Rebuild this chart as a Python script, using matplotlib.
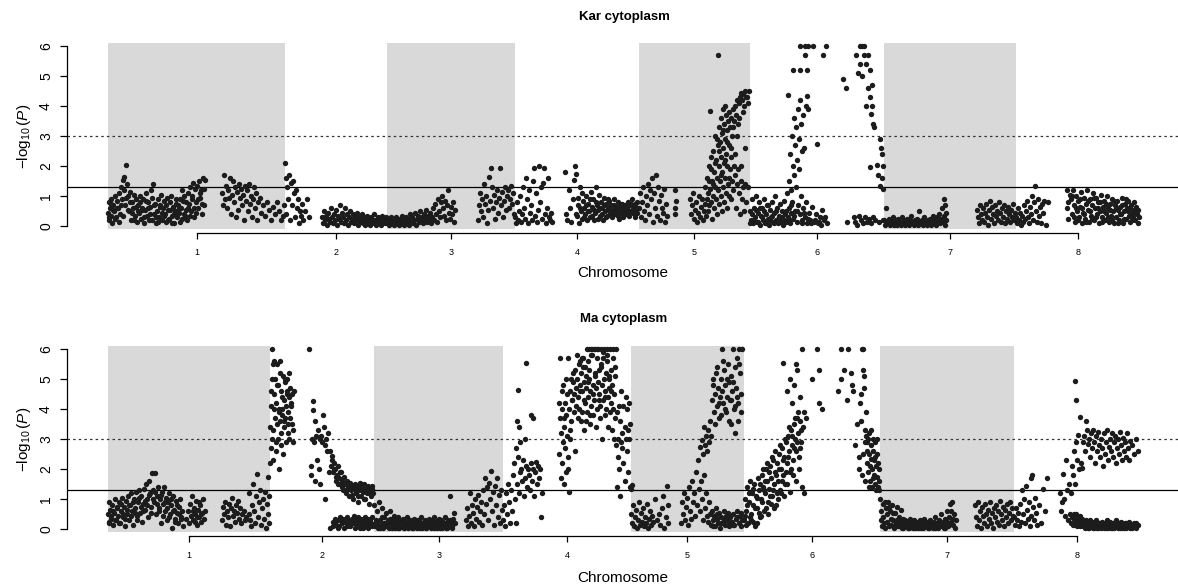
import numpy as np
import matplotlib
matplotlib.use("Agg")
import matplotlib.pyplot as plt
from matplotlib.patches import Rectangle

plt.rcParams["font.family"] = ["Liberation Sans", "DejaVu Sans"]
plt.rcParams["mathtext.fontset"] = "custom"
plt.rcParams["mathtext.rm"] = "Liberation Sans"
plt.rcParams["mathtext.it"] = "Liberation Sans:italic"

chrom_labels = ["1", "2", "3", "4", "5", "6", "7", "8"]

# chromosome lengths (map units) for each panel
kar_lengths = [177, 102, 128, 124, 111, 134, 132, 124]
ma_lengths = [162, 104, 129, 127, 113, 136, 134, 126]

# (position within chromosome, -log10 P)
kar_c1 = [
    (0, 0.45), (1, 0.8), (1, 0.2), (2, 0.6), (3, 0.35), (3, 0.9), (4, 0.1), (5, 0.7), (6, 0.5), (7, 1.0),
    (8, 0.3), (9, 0.85), (10, 0.6), (11, 1.1), (12, 0.4), (13, 1.3), (14, 0.9), (15, 1.55), (16, 1.2),
    (16, 1.65), (17, 0.7), (18, 2.05), (19, 1.4), (20, 1.0), (21, 0.5), (22, 1.15), (23, 0.2), (24, 0.8),
    (25, 0.6), (26, 1.05), (27, 0.35), (28, 0.9), (29, 0.15), (30, 0.7), (31, 0.45), (32, 1.0), (33, 0.25),
    (34, 0.6), (35, 0.9), (36, 0.1), (37, 0.55), (38, 1.1), (39, 0.35), (40, 0.8), (41, 0.2), (42, 0.65),
    (43, 1.2), (44, 0.95), (45, 1.4), (46, 0.4), (47, 0.75), (48, 0.1), (49, 0.5), (50, 0.9), (51, 0.3),
    (52, 0.7), (53, 1.05), (54, 0.2), (55, 0.6), (56, 0.85), (57, 0.4), (58, 0.15), (59, 0.95), (60, 0.55),
    (61, 0.25), (62, 0.8), (63, 1.0), (64, 0.35), (65, 0.65), (66, 0.1), (67, 0.5), (68, 0.9), (69, 0.3),
    (70, 0.7), (71, 0.45), (72, 0.15), (73, 0.6), (74, 1.2), (75, 0.85), (76, 1.0), (77, 0.35), (78, 0.55),
    (79, 0.2), (80, 1.1), (81, 0.75), (82, 1.3), (83, 0.5), (84, 1.0), (85, 1.45), (86, 0.3), (87, 1.25),
    (88, 0.8), (89, 1.35), (90, 0.6), (91, 1.5), (92, 0.95), (93, 1.2), (94, 0.4), (95, 1.6), (96, 0.7),
    (97, 1.55),
    (114, 1.1), (115, 0.7), (116, 1.7), (117, 0.9), (118, 1.35), (119, 0.6), (120, 1.2), (121, 0.95),
    (122, 1.6), (123, 0.4), (124, 1.05), (125, 1.5), (126, 0.8), (127, 1.3), (128, 0.3), (129, 1.15),
    (130, 0.55), (131, 1.4), (132, 0.95), (133, 1.25), (134, 0.7), (135, 1.05), (136, 0.2), (137, 1.35),
    (138, 0.85), (139, 1.2), (140, 0.5), (141, 1.4), (142, 0.75), (143, 1.0), (144, 0.3), (145, 0.9),
    (146, 1.3), (147, 0.6), (148, 1.1), (149, 0.2), (150, 0.8), (152, 0.95), (153, 0.45), (155, 0.7),
    (157, 0.35), (159, 0.8), (161, 0.55), (163, 0.2), (165, 0.65), (167, 0.4), (169, 0.8), (171, 0.5),
    (173, 0.2), (175, 0.35), (176, 0.7),
]
kar_c1 += [
    (0.5, 0.3), (2.5, 0.75), (4.5, 0.55), (6.5, 0.25), (8.5, 0.6), (10.5, 0.15), (12.5, 0.7), (14.5, 0.35),
    (17.5, 0.95), (19.5, 0.55), (21.5, 0.8), (23.5, 0.45), (25.5, 0.2), (27.5, 0.65), (29.5, 0.5),
    (31.5, 0.8), (33.5, 0.55), (35.5, 0.3), (37.5, 0.85), (39.5, 0.6), (41.5, 0.4), (43.5, 0.2), (45.5, 0.7),
    (47.5, 0.3), (49.5, 0.15), (51.5, 0.65), (53.5, 0.45), (55.5, 0.35), (57.5, 0.7), (59.5, 0.2),
    (61.5, 0.55), (63.5, 0.1), (65.5, 0.4), (67.5, 0.75), (69.5, 0.55), (71.5, 0.9), (73.5, 0.25),
    (75.5, 0.4), (77.5, 0.8), (79.5, 0.6), (81.5, 0.35), (83.5, 0.9), (85.5, 0.6), (87.5, 0.45), (89.5, 0.9),
    (91.5, 1.1), (93.5, 0.75), (95.5, 1.25),
]
kar_c2 = [
    (0, 2.1), (1, 1.6), (1, 0.4), (2, 1.3), (3, 0.9), (4, 1.7), (5, 0.2), (6, 1.45), (7, 0.7), (8, 1.5),
    (9, 1.1), (10, 0.3), (11, 1.2), (12, 0.6), (13, 0.9), (14, 0.1), (15, 0.5), (16, 0.35), (17, 0.75),
    (18, 0.2), (20, 0.5), (22, 0.9), (24, 0.3),
    (37, 0.3), (38, 0.1), (39, 0.5), (40, 0.2), (41, 0.35), (42, 0.05), (43, 0.45), (44, 0.25), (45, 0.15),
    (46, 0.6), (47, 0.3), (48, 0.1), (49, 0.4), (50, 0.2), (51, 0.55), (52, 0.05), (53, 0.35), (54, 0.25),
    (55, 0.7), (56, 0.15), (57, 0.45), (58, 0.3), (59, 0.1), (60, 0.6), (61, 0.2), (62, 0.4), (63, 0.05),
    (64, 0.3), (65, 0.5), (66, 0.15), (67, 0.25), (68, 0.4), (69, 0.1), (70, 0.35), (71, 0.2), (72, 0.45),
    (73, 0.05), (74, 0.3), (75, 0.15), (76, 0.25), (77, 0.4), (78, 0.1), (79, 0.3), (80, 0.05), (81, 0.2),
    (82, 0.35), (83, 0.15), (84, 0.25), (85, 0.05), (86, 0.3), (87, 0.1), (88, 0.2), (89, 0.4), (90, 0.15),
    (91, 0.05), (92, 0.25), (93, 0.3), (94, 0.1), (95, 0.2), (96, 0.05), (97, 0.35), (98, 0.15), (99, 0.25),
    (100, 0.1), (101, 0.3),
]
kar_c3 = [
    (0, 0.1), (1, 0.25), (2, 0.05), (3, 0.15), (4, 0.3), (5, 0.1), (6, 0.2), (7, 0.05), (8, 0.15), (9, 0.3),
    (10, 0.1), (11, 0.2), (12, 0.05), (13, 0.25), (14, 0.1), (15, 0.35), (16, 0.15), (17, 0.05), (18, 0.2),
    (19, 0.3), (20, 0.1), (21, 0.25), (22, 0.05), (23, 0.4), (24, 0.15), (25, 0.3), (26, 0.1), (27, 0.2),
    (28, 0.45), (29, 0.05), (30, 0.25), (31, 0.35), (32, 0.15), (33, 0.5), (34, 0.2), (35, 0.3), (36, 0.1),
    (37, 0.4), (38, 0.25), (39, 0.55), (40, 0.15), (41, 0.35), (42, 0.2), (43, 0.45), (44, 0.1), (45, 0.3),
    (46, 0.6), (47, 0.2), (48, 0.75), (49, 0.4), (50, 0.15), (51, 0.9), (52, 0.5), (53, 0.3), (54, 0.8),
    (55, 1.0), (56, 0.6), (57, 0.35), (58, 0.85), (59, 0.2), (60, 0.7), (61, 1.2), (62, 0.45), (63, 0.25),
    (64, 0.65), (65, 0.4), (66, 0.8), (67, 0.15), (68, 0.55),
    (91, 0.2), (92, 0.7), (93, 1.1), (94, 0.5), (95, 0.9), (96, 0.3), (97, 1.4), (98, 0.75), (99, 1.0),
    (100, 0.1), (101, 0.55), (102, 1.65), (103, 0.85), (104, 1.95), (105, 1.3), (106, 0.6), (107, 1.05),
    (108, 0.25), (109, 0.8), (110, 1.2), (111, 0.45), (112, 0.95), (113, 1.95), (114, 0.7), (115, 1.15),
    (116, 0.3), (117, 0.85), (118, 1.3), (119, 0.55), (120, 1.0), (121, 1.2), (122, 0.6), (123, 0.9),
    (124, 1.35), (125, 0.75), (126, 1.1), (127, 0.4),
]
kar_c4 = [
    (0, 0.3), (1, 0.1), (2, 0.8), (3, 0.2), (4, 0.5), (5, 1.0), (6, 0.15), (7, 0.4), (8, 1.3), (9, 0.6),
    (10, 0.25), (11, 1.6), (12, 0.9), (13, 0.1), (14, 1.2), (15, 0.45), (16, 0.7), (17, 0.2), (18, 1.5),
    (19, 1.95), (20, 0.35), (21, 1.1), (22, 0.15), (23, 0.55), (24, 2.0), (25, 0.8), (26, 1.3), (27, 0.25),
    (28, 1.45), (29, 1.95), (30, 0.4), (31, 0.1), (32, 0.6), (33, 1.6), (34, 0.3), (35, 0.2), (36, 0.45),
    (37, 0.15),
    (50, 1.8), (51, 0.4), (52, 0.2), (54, 1.2), (55, 0.6), (56, 0.15), (58, 0.9), (59, 1.55), (60, 2.0),
    (61, 1.75), (62, 0.35), (63, 0.7), (64, 0.1), (65, 1.3), (66, 0.5), (67, 0.25), (68, 0.85), (69, 0.6),
    (70, 0.4), (71, 1.0), (72, 0.2), (73, 0.75), (74, 0.5), (75, 0.3), (76, 1.15), (77, 0.65), (78, 0.9),
    (79, 0.2), (80, 0.45), (81, 1.3), (82, 0.7), (83, 0.55), (84, 1.05), (85, 0.35), (86, 0.8), (87, 0.6),
    (88, 0.2), (89, 0.95), (90, 0.5), (91, 0.75), (92, 0.35), (93, 0.6), (94, 0.85), (95, 0.45), (96, 0.7),
    (97, 0.3), (98, 0.55), (99, 0.9), (100, 0.4), (101, 0.65), (102, 0.5), (103, 0.8), (104, 0.25),
    (105, 0.6), (106, 0.45), (107, 0.75), (108, 0.3), (109, 0.55), (110, 0.7), (111, 0.4), (112, 0.6),
    (113, 0.8), (114, 0.35), (115, 0.5), (116, 0.75), (117, 0.9), (118, 0.45), (119, 0.65), (120, 0.3),
    (121, 0.55), (122, 0.8), (123, 0.6),
]
kar_c4 += [
    (60.5, 0.4), (62.5, 0.95), (64.5, 0.6), (66.5, 1.1), (68.5, 0.3), (70.5, 0.7), (72.5, 0.5), (74.5, 0.9),
    (76.5, 0.35), (78.5, 0.55), (80.5, 0.8), (82.5, 0.25), (84.5, 0.6), (86.5, 0.4), (88.5, 0.7), (90.5, 0.3),
    (92.5, 0.9), (94.5, 0.55), (96.5, 0.4), (98.5, 0.7), (100.5, 0.55), (102.5, 0.35), (104.5, 0.75),
    (106.5, 0.6), (108.5, 0.45), (110.5, 0.55), (112.5, 0.4), (114.5, 0.7), (116.5, 0.5), (118.5, 0.6),
    (120.5, 0.75), (122.5, 0.45),
]
kar_c5 = [
    (0, 0.6), (1, 1.1), (2, 0.3), (3, 0.8), (4, 1.3), (5, 0.5), (6, 0.2), (7, 1.0), (8, 0.7), (9, 1.4),
    (10, 0.4), (11, 1.2), (12, 0.9), (13, 1.6), (14, 0.15), (15, 1.1), (16, 0.6), (17, 1.7), (18, 0.35),
    (19, 1.3), (20, 0.85), (21, 0.2), (22, 1.05), (23, 0.6), (24, 0.45), (25, 1.25), (26, 0.15), (27, 0.75),
    (28, 0.35), (36, 1.2), (36, 0.6), (36, 0.4), (37, 0.85),
    (51, 0.9), (52, 0.4), (53, 0.7), (54, 1.1), (55, 0.25), (56, 0.55), (57, 0.8), (58, 0.15), (59, 0.45),
    (60, 1.0), (61, 0.3), (62, 0.65), (63, 0.9), (64, 0.2), (65, 0.5), (66, 1.3), (66, 0.75), (67, 0.35),
    (68, 1.6), (68, 0.9), (69, 1.1), (69, 0.5), (70, 2.0), (70, 0.7), (71, 3.85), (71, 1.25), (72, 2.3),
    (72, 0.8), (73, 1.5), (73, 0.25), (74, 2.5), (74, 1.0), (75, 1.8), (75, 0.6), (76, 3.0), (76, 1.3),
    (77, 2.2), (77, 0.9), (78, 1.6), (78, 0.4), (79, 5.7), (79, 2.7), (79, 1.2), (80, 3.3), (80, 2.0),
    (80, 0.75), (81, 2.8), (81, 1.5), (82, 3.6), (82, 2.3), (82, 1.0), (83, 3.1), (83, 1.8), (83, 0.5),
    (84, 3.9), (84, 2.6), (84, 1.3), (85, 3.4), (85, 2.1), (85, 0.8), (86, 4.0), (86, 2.9), (86, 1.6),
    (87, 3.7), (87, 2.4), (87, 1.1), (88, 3.2), (88, 2.0), (88, 0.6), (89, 3.5), (89, 1.4), (90, 3.8),
    (90, 2.7), (90, 1.0), (91, 3.3), (91, 1.9), (92, 3.6), (92, 2.3), (92, 0.9), (93, 3.0), (93, 1.5),
    (94, 3.9), (94, 1.2), (95, 3.5), (95, 2.0), (96, 4.0), (96, 1.7), (97, 3.7), (97, 0.6), (98, 4.2),
    (98, 1.4), (99, 3.4), (99, 1.9), (100, 4.1), (100, 1.1), (101, 4.3), (101, 0.4), (102, 4.45), (102, 1.5),
    (103, 4.2), (103, 0.9), (104, 4.4), (104, 1.3), (105, 4.0), (105, 0.5), (106, 4.5), (106, 1.4),
    (107, 4.3), (107, 0.8), (109, 4.1), (109, 1.3), (110, 4.5),
]
kar_c5 += [
    (70.5, 1.5), (72.5, 1.9), (74.5, 1.4), (76.5, 2.1), (78.5, 2.9), (80.5, 2.5), (82.5, 1.7), (84.5, 3.2),
    (86.5, 2.2), (88.5, 2.8), (90.5, 1.6), (92.5, 2.6), (94.5, 3.3), (96.5, 2.4), (98.5, 3.0), (100.5, 3.6),
    (102.5, 2.0), (104.5, 3.8), (106.5, 2.6), (108.5, 4.3),
]
kar_c6 = [
    (0, 0.5), (1, 0.2), (2, 0.9), (3, 0.1), (4, 0.6), (5, 0.3), (6, 1.0), (7, 0.15), (8, 0.45), (9, 0.8),
    (10, 0.05), (11, 0.35), (12, 0.6), (13, 0.2), (14, 0.9), (15, 0.1), (16, 0.4), (17, 0.7), (18, 0.25),
    (19, 0.05), (20, 0.55), (21, 0.3), (22, 0.8), (23, 0.15), (24, 0.45), (25, 1.0), (26, 0.2), (27, 0.6),
    (28, 0.1), (29, 0.35), (30, 0.75), (31, 0.25), (32, 0.5), (33, 0.05), (34, 0.85), (35, 0.4), (36, 0.15),
    (37, 1.1), (38, 4.37), (38, 0.3), (39, 1.5), (39, 0.6), (40, 2.4), (40, 0.1), (41, 1.2), (41, 0.45),
    (42, 3.0), (42, 0.8), (43, 5.2), (43, 2.0), (43, 0.25), (44, 3.6), (44, 1.7), (45, 2.7), (45, 0.5),
    (46, 3.3), (46, 1.3), (47, 2.2), (47, 0.15), (48, 3.9), (48, 0.7), (49, 2.9), (49, 1.9), (50, 6.0),
    (50, 5.2), (50, 4.2), (50, 0.4), (51, 3.4), (51, 1.0), (52, 2.5), (52, 0.2), (53, 3.7), (53, 0.6),
    (54, 2.6), (55, 6.0), (55, 5.7), (55, 0.3), (56, 4.0), (56, 0.8), (57, 5.2), (57, 4.35), (57, 0.1),
    (58, 6.0), (58, 3.9), (59, 0.45), (60, 0.2), (62, 0.65), (63, 6.0), (64, 0.15), (66, 0.4), (67, 2.75),
    (68, 0.1), (70, 0.3), (72, 0.55), (73, 5.7), (74, 0.2), (76, 6.0), (77, 0.1),
    (93, 4.9), (96, 4.6), (97, 0.15), (104, 0.3), (105, 0.15), (106, 5.7), (107, 0.05), (108, 5.1),
    (109, 0.35), (110, 6.0), (110, 5.4), (111, 0.2), (112, 6.0), (112, 5.0), (113, 0.1), (114, 6.0),
    (114, 5.7), (115, 0.3), (116, 5.4), (116, 4.0), (117, 0.15), (118, 5.7), (118, 4.6), (119, 0.25),
    (120, 5.2), (120, 4.3), (120, 1.98), (121, 0.1), (121, 3.75), (122, 4.0), (122, 4.7), (123, 3.4),
    (123, 0.3), (124, 3.3), (125, 0.2), (127, 2.05), (128, 1.7), (129, 0.15), (130, 2.9), (130, 1.35),
    (131, 2.6), (132, 2.4), (132, 1.6), (133, 2.0), (133, 1.25), (133, 0.2),
]
kar_c6 += [
    (0.5, 0.1), (2.5, 0.4), (4.5, 0.2), (6.5, 0.55), (8.5, 0.15), (10.5, 0.6), (12.5, 0.3), (14.5, 0.5),
    (16.5, 0.1), (18.5, 0.7), (20.5, 0.2), (22.5, 0.35), (24.5, 0.1), (26.5, 0.5), (28.5, 0.25), (30.5, 0.15),
    (32.5, 0.3), (34.5, 0.2), (36.5, 0.5), (39.5, 0.2), (41.5, 0.7), (44.5, 0.35), (47.5, 0.5), (52.5, 0.1),
    (54.5, 0.45), (58.5, 0.25), (61.5, 0.1), (65.5, 0.2), (69.5, 0.15), (71.5, 0.05), (75.5, 0.3),
]
kar_c7 = [
    (0, 0.2), (1, 0.05), (2, 0.6), (3, 0.15), (4, 0.1), (5, 0.25), (6, 0.05), (7, 0.2), (8, 0.1), (9, 0.3),
    (10, 0.05), (11, 0.15), (12, 0.2), (13, 0.05), (14, 0.25), (15, 0.1), (16, 0.15), (17, 0.05), (18, 0.3),
    (19, 0.1), (20, 0.2), (21, 0.05), (22, 0.15), (23, 0.25), (24, 0.1), (25, 0.05), (26, 0.2), (27, 0.35),
    (28, 0.1), (29, 0.15), (30, 0.05), (31, 0.2), (32, 0.1), (33, 0.25), (34, 0.05), (35, 0.5), (36, 0.15),
    (37, 0.1), (38, 0.2), (39, 0.05), (40, 0.3), (41, 0.1), (42, 0.15), (43, 0.05), (44, 0.2), (45, 0.1),
    (46, 0.25), (47, 0.05), (48, 0.15), (49, 0.35), (50, 0.1), (51, 0.2), (52, 0.05), (53, 0.3), (54, 0.15),
    (55, 0.4), (56, 0.1), (57, 0.25), (58, 0.6), (59, 0.15), (60, 0.9), (60, 0.35), (61, 0.7), (61, 0.05),
    (62, 0.45), (62, 0.2),
    (93, 0.55), (94, 0.3), (95, 0.1), (96, 0.7), (97, 0.4), (98, 0.2), (99, 0.6), (100, 0.15), (101, 0.45),
    (102, 0.75), (103, 0.3), (104, 0.05), (105, 0.55), (106, 0.85), (107, 0.25), (108, 0.65), (109, 0.4),
    (110, 0.1), (111, 0.7), (112, 0.35), (113, 0.5), (114, 0.2), (115, 0.8), (116, 0.45), (117, 0.15),
    (118, 0.6), (119, 0.3), (120, 0.7), (121, 0.1), (122, 0.5), (123, 0.25), (124, 0.65), (125, 0.4),
    (126, 0.15), (127, 0.55), (128, 0.3), (129, 0.75), (130, 0.2), (131, 0.45),
]
kar_c8 = [
    (0, 0.3), (1, 0.1), (2, 0.6), (3, 0.2), (4, 0.45), (5, 0.05), (6, 0.35), (7, 0.15), (8, 0.7), (9, 0.25),
    (10, 0.5), (11, 0.85), (12, 0.3), (13, 0.1), (14, 0.65), (15, 0.4), (16, 1.0), (17, 0.2), (18, 0.8),
    (19, 1.35), (20, 0.5), (21, 0.15), (22, 0.9), (23, 0.35), (24, 0.65), (25, 0.1), (26, 0.75), (27, 0.45),
    (28, 0.85), (30, 0.05), (32, 0.8),
    (51, 1.2), (51, 0.6), (52, 0.25), (54, 1.05), (55, 0.9), (56, 0.4), (57, 1.2), (58, 0.7), (59, 0.15),
    (60, 1.0), (61, 0.5), (62, 0.85), (63, 0.3), (64, 0.65), (65, 1.15), (66, 0.1), (67, 0.45), (68, 0.95),
    (69, 0.25), (70, 0.75), (71, 1.2), (72, 0.55), (73, 0.15), (74, 0.9), (75, 0.35), (76, 0.7), (77, 1.1),
    (78, 0.2), (79, 0.6), (80, 0.95), (81, 0.4), (82, 0.8), (83, 0.1), (84, 0.5), (85, 1.05), (86, 0.3),
    (87, 0.65), (88, 0.85), (89, 0.2), (90, 0.45), (91, 1.0), (92, 0.6), (93, 0.15), (94, 0.75), (95, 0.35),
    (96, 0.9), (97, 0.5), (98, 0.1), (99, 0.7), (100, 0.3), (101, 0.85), (102, 0.55), (103, 0.2), (104, 0.65),
    (105, 0.4), (106, 0.95), (107, 0.1), (108, 0.5), (109, 0.75), (110, 0.25), (111, 0.6), (112, 0.85),
    (113, 0.35), (114, 0.15), (115, 0.7), (116, 0.45), (117, 0.3), (118, 0.55), (119, 0.2), (120, 0.65),
    (121, 0.4), (122, 0.1), (123, 0.3),
]
kar_c8 += [
    (52.5, 0.8), (56.5, 1.0), (58.5, 0.3), (60.5, 0.6), (62.5, 0.2), (64.5, 0.9), (66.5, 0.6), (68.5, 0.4),
    (70.5, 0.15), (72.5, 0.85), (74.5, 0.5), (76.5, 0.25), (78.5, 0.95), (80.5, 0.3), (82.5, 0.6),
    (84.5, 0.8), (86.5, 0.15), (88.5, 0.5), (90.5, 0.75), (92.5, 0.3), (94.5, 0.55), (96.5, 0.2),
    (98.5, 0.85), (100.5, 0.6), (102.5, 0.1), (104.5, 0.4), (106.5, 0.7), (108.5, 0.25), (110.5, 0.9),
    (112.5, 0.5), (114.5, 0.6), (116.5, 0.2), (118.5, 0.8), (120.5, 0.45), (122.5, 0.55),
]

ma_c1 = [
    (0, 0.5), (1, 0.9), (1, 0.2), (2, 0.65), (3, 0.35), (4, 0.8), (5, 0.15), (6, 0.55), (7, 1.0), (8, 0.3),
    (9, 0.7), (10, 0.45), (11, 0.9), (12, 0.2), (13, 0.6), (14, 1.05), (15, 0.4), (16, 0.75), (17, 0.1),
    (18, 0.95), (19, 0.5), (20, 1.1), (21, 0.3), (22, 0.8), (23, 1.2), (24, 0.6), (25, 0.15), (26, 1.0),
    (27, 0.7), (28, 1.25), (29, 0.45), (30, 0.9), (31, 1.3), (32, 0.55), (33, 1.1), (34, 0.25), (35, 0.85),
    (36, 1.35), (37, 0.65), (38, 1.5), (39, 1.0), (40, 0.4), (41, 1.6), (42, 1.2), (43, 0.75), (44, 1.87),
    (45, 1.3), (46, 0.9), (47, 1.87), (48, 0.5), (49, 1.1), (50, 1.4), (51, 0.7), (52, 1.0), (53, 0.2),
    (54, 1.25), (55, 0.85), (56, 1.4), (57, 0.6), (58, 1.05), (59, 0.3), (60, 0.9), (61, 1.2), (62, 0.5),
    (63, 0.8), (64, 0.05), (65, 1.1), (66, 0.65), (67, 0.35), (68, 0.95), (69, 0.55), (70, 0.2), (71, 0.75),
    (72, 1.0), (73, 0.4), (74, 0.6), (75, 0.1), (78, 0.35), (80, 0.6), (81, 0.2), (82, 0.85), (83, 0.45),
    (84, 1.1), (85, 0.3), (86, 0.7), (87, 0.5), (88, 0.95), (89, 0.15), (90, 0.65), (91, 0.4), (92, 0.8),
    (93, 0.25), (94, 0.55), (95, 1.0), (96, 0.35), (97, 0.6),
    (114, 0.3), (115, 0.75), (116, 0.5), (117, 0.9), (118, 0.15), (119, 0.6), (120, 0.4), (121, 0.85),
    (122, 0.1), (123, 0.7), (124, 1.05), (125, 0.45), (126, 0.6), (127, 0.25), (128, 0.8), (129, 0.55),
    (130, 0.95), (131, 0.35), (132, 0.7), (133, 0.2), (134, 0.5), (136, 0.6), (137, 0.3), (138, 0.4),
    (141, 1.2), (141, 0.5), (142, 0.3), (143, 0.1), (144, 0.8), (145, 1.5), (146, 0.6), (147, 0.2),
    (148, 1.1), (149, 1.83), (150, 0.4), (151, 0.9), (152, 1.3), (153, 0.15), (154, 0.7), (155, 1.0),
    (156, 0.35), (157, 1.25), (158, 0.05), (159, 0.85), (160, 1.75), (160, 0.5), (161, 1.1), (161, 0.2),
]
ma_c1 += [
    (0.5, 0.25), (2.5, 0.45), (4.5, 0.6), (6.5, 0.3), (8.5, 0.75), (10.5, 0.2), (12.5, 0.85), (14.5, 0.5),
    (16.5, 0.35), (18.5, 0.65), (20.5, 0.8), (22.5, 0.45), (24.5, 0.9), (26.5, 0.55), (28.5, 0.3),
    (30.5, 1.05), (32.5, 0.75), (34.5, 0.6), (36.5, 0.95), (38.5, 0.8), (40.5, 1.15), (42.5, 0.55),
    (44.5, 1.0), (46.5, 1.25), (48.5, 0.85), (50.5, 0.6), (52.5, 1.15), (54.5, 0.45), (56.5, 0.9),
    (58.5, 0.7), (60.5, 0.4), (62.5, 1.0), (64.5, 0.6), (66.5, 0.25), (68.5, 0.8), (70.5, 0.5), (72.5, 0.35),
    (84.5, 0.6), (86.5, 0.25), (88.5, 0.4), (90.5, 0.9), (92.5, 0.5),
]
ma_c2 = [
    (0, 2.2), (0, 3.4), (1, 4.1), (1, 2.7), (2, 6.0), (2, 5.0), (3, 3.3), (3, 2.3), (4, 5.6), (4, 4.5),
    (5, 3.7), (5, 5.0), (6, 4.2), (6, 2.6), (7, 5.5), (7, 3.5), (8, 4.8), (8, 3.0), (9, 4.0), (9, 2.0),
    (10, 5.2), (10, 3.6), (11, 4.6), (11, 3.2), (12, 3.8), (12, 4.4), (13, 5.1), (13, 2.5), (14, 4.3),
    (14, 3.4), (15, 4.9), (15, 3.7), (16, 4.1), (16, 2.9), (17, 5.0), (17, 4.6), (18, 3.9), (18, 3.5),
    (19, 4.4), (19, 3.0), (20, 4.7), (20, 3.7), (21, 4.2), (22, 4.5), (23, 3.3), (24, 4.6),
    (39, 6.0), (41, 2.1), (41, 1.8), (42, 3.0), (43, 4.26), (43, 3.98), (44, 2.9), (45, 3.6), (45, 1.6),
    (46, 3.1), (47, 2.3), (48, 3.3), (49, 2.0), (50, 3.0), (50, 1.5), (51, 3.1), (52, 2.9), (53, 3.8),
    (54, 3.4), (55, 2.8), (55, 1.0), (56, 3.0), (57, 2.6), (58, 3.2), (59, 1.9),
    (60, 2.6), (61, 2.1), (62, 2.45), (63, 1.9), (64, 2.2), (65, 2.0), (66, 1.6), (67, 1.8), (68, 2.1),
    (69, 1.7), (70, 1.5), (71, 1.9), (72, 1.6), (73, 1.3), (74, 1.75), (75, 1.5), (76, 1.2), (77, 1.6),
    (78, 1.4), (79, 1.1), (80, 1.55), (81, 1.3), (82, 1.45), (83, 1.0), (84, 1.35), (85, 1.5), (86, 1.2),
    (87, 1.4), (88, 0.9), (89, 1.3), (90, 1.55), (91, 1.1), (92, 1.45), (93, 1.25), (94, 1.5), (95, 1.0),
    (96, 1.35), (97, 1.2), (98, 1.4), (99, 0.85), (100, 1.3), (101, 1.1), (102, 1.45), (103, 1.2),
    (60, 0.05), (63, 0.25), (65, 0.35), (66, 0.15), (68, 0.3), (69, 0.1), (70, 0.4), (72, 0.2), (73, 0.35),
    (74, 0.05), (75, 0.25), (77, 0.4), (78, 0.15), (79, 0.3), (80, 0.1), (82, 0.35), (83, 0.2), (84, 0.45),
    (85, 0.05), (86, 0.3), (87, 0.15), (88, 0.4), (89, 0.25), (90, 0.1), (91, 0.35), (92, 0.2), (93, 0.05),
    (94, 0.3), (95, 0.4), (96, 0.15), (97, 0.25), (98, 0.35), (99, 0.1), (100, 0.3), (101, 0.2), (102, 0.4),
    (103, 0.15),
]
ma_c2 += [
    (0.5, 4.6), (1.5, 3.0), (2.5, 5.5), (3.5, 4.0), (5.5, 2.9), (6.5, 4.8), (8.5, 3.9), (9.5, 5.6),
    (10.5, 2.8), (11.5, 4.0), (13.5, 3.6), (14.5, 5.0), (16.5, 4.5), (17.5, 3.2), (18.5, 5.2), (20.5, 4.1),
    (21.5, 3.5), (22.5, 2.9),
    (61.5, 2.3), (63.5, 2.0), (65.5, 1.75), (67.5, 1.5), (69.5, 1.9), (71.5, 1.4), (73.5, 1.55), (75.5, 1.3),
    (77.5, 1.35), (79.5, 1.45), (81.5, 1.15), (83.5, 1.4), (85.5, 1.25), (87.5, 1.1), (89.5, 1.45),
    (91.5, 1.3), (93.5, 1.0), (95.5, 1.3), (97.5, 1.45), (99.5, 1.2), (101.5, 1.35),
    (62.5, 0.1), (64.5, 0.2), (67.5, 0.05), (71.5, 0.25), (76.5, 0.1), (81.5, 0.2), (85.5, 0.3), (89.5, 0.05),
    (93.5, 0.3), (97.5, 0.05), (101.5, 0.1),
]
ma_c3 = [
    (0, 0.8), (1, 0.1), (2, 0.25), (3, 0.6), (4, 0.05), (5, 0.9), (6, 0.3), (7, 0.15), (8, 0.7), (9, 0.05),
    (10, 0.4), (11, 0.2), (12, 0.55), (13, 0.1), (14, 0.3), (15, 0.05), (16, 0.6), (17, 0.2), (18, 0.35),
    (19, 0.1), (20, 0.45), (21, 0.05), (22, 0.25), (23, 0.15), (24, 0.4), (25, 0.05), (26, 0.3), (27, 0.2),
    (28, 0.1), (29, 0.35), (30, 0.05), (31, 0.25), (32, 0.15), (33, 0.4), (34, 0.05), (35, 0.2), (36, 0.3),
    (37, 0.1), (38, 0.25), (39, 0.05), (40, 0.35), (41, 0.15), (42, 0.2), (43, 0.05), (44, 0.3), (45, 0.1),
    (46, 0.25), (47, 0.4), (48, 0.05), (49, 0.2), (50, 0.15), (51, 0.3), (52, 0.05), (53, 0.25), (54, 0.1),
    (55, 0.35), (56, 0.2), (57, 0.05), (58, 0.3), (59, 0.15), (60, 0.4), (61, 0.1), (62, 0.25), (63, 0.05),
    (64, 0.2), (65, 0.35), (66, 0.1), (67, 0.3), (68, 0.05), (69, 0.25), (70, 0.15), (71, 0.4), (72, 0.2),
    (73, 0.05), (74, 0.3), (75, 0.15), (76, 1.1), (77, 0.25), (78, 0.05), (79, 0.35), (80, 0.55), (81, 0.2),
    (92, 0.3), (93, 0.7), (94, 0.1), (95, 0.45), (96, 1.2), (97, 0.2), (98, 0.8), (99, 0.55), (100, 0.1),
    (101, 1.0), (102, 0.35), (103, 0.75), (104, 1.15), (105, 0.25), (106, 0.6), (107, 0.9), (108, 0.15),
    (109, 1.3), (110, 0.5), (111, 1.7), (112, 0.85), (113, 1.4), (114, 0.3), (115, 1.55), (116, 1.0),
    (117, 1.95), (118, 0.6), (119, 1.25), (120, 0.15), (121, 1.45), (122, 0.8), (123, 1.7), (124, 0.4),
    (125, 1.15), (126, 0.2), (127, 1.3), (128, 0.65),
]
ma_c3 += [
    (1.5, 0.3), (3.5, 0.15), (5.5, 0.05), (7.5, 0.4), (9.5, 0.2), (11.5, 0.1), (13.5, 0.25), (15.5, 0.35),
    (17.5, 0.05), (19.5, 0.2), (21.5, 0.3), (23.5, 0.05), (25.5, 0.2), (27.5, 0.1), (29.5, 0.05),
    (31.5, 0.15), (33.5, 0.25), (35.5, 0.1), (37.5, 0.05), (39.5, 0.2), (41.5, 0.3), (43.5, 0.15),
    (45.5, 0.05), (47.5, 0.2), (49.5, 0.1), (51.5, 0.05), (53.5, 0.15), (55.5, 0.1), (57.5, 0.25),
    (59.5, 0.05), (61.5, 0.15), (63.5, 0.3), (65.5, 0.05), (67.5, 0.2), (69.5, 0.1), (71.5, 0.05),
    (73.5, 0.15), (75.5, 0.3), (77.5, 0.1),
]
ma_c4 = [
    (0, 0.3), (1, 0.8), (2, 0.1), (3, 1.2), (4, 0.5), (5, 1.5), (6, 0.9), (7, 0.2), (8, 1.3), (9, 0.6),
    (10, 1.8), (11, 2.2), (12, 1.0), (13, 2.7), (13, 0.2), (14, 3.6), (14, 1.5), (15, 4.64), (15, 2.4),
    (16, 3.4), (16, 1.2), (17, 2.9), (17, 1.9), (18, 2.0), (19, 1.6), (20, 2.3), (21, 1.1), (22, 3.0),
    (22, 1.7), (23, 5.53), (23, 2.1), (24, 1.4), (25, 2.0), (26, 1.8), (27, 1.3), (28, 3.8), (28, 2.2),
    (29, 1.6), (30, 3.7), (30, 2.0), (31, 1.1), (32, 1.9), (33, 2.25), (34, 1.5), (35, 2.1), (36, 1.7),
    (37, 2.0), (38, 0.4), (39, 1.2),
    (56, 4.2), (56, 2.5), (57, 5.7), (57, 3.7), (58, 3.2), (58, 1.7), (59, 4.0), (59, 2.2), (60, 4.8),
    (60, 2.9), (61, 3.4), (61, 1.5), (62, 4.2), (62, 2.7), (63, 3.8), (63, 1.9), (64, 4.5), (64, 3.1),
    (65, 5.71), (65, 2.4), (66, 4.0), (66, 1.25), (67, 4.6), (67, 3.3), (68, 5.0), (68, 3.6), (69, 4.3),
    (70, 5.2), (70, 4.9), (71, 3.9), (71, 4.5), (72, 5.3), (72, 2.6), (73, 4.7), (73, 4.1), (74, 5.8),
    (74, 5.0), (75, 4.4), (75, 3.7), (76, 5.5), (76, 4.0), (77, 5.6), (77, 4.8), (78, 5.2), (78, 3.6),
    (79, 4.6), (79, 3.9), (80, 5.4), (80, 5.7), (81, 4.9), (81, 3.3), (82, 5.4), (82, 4.2), (83, 5.1),
    (83, 4.7), (84, 6.0), (84, 3.9), (85, 5.6), (85, 4.4), (86, 6.0), (86, 5.0), (87, 4.6), (87, 3.5),
    (88, 6.0), (88, 4.1), (89, 6.0), (89, 5.8), (90, 4.8), (90, 3.8), (91, 6.0), (91, 4.3), (92, 6.0),
    (92, 5.1), (93, 4.7), (93, 3.4), (94, 6.0), (94, 4.0), (95, 6.0), (95, 4.9), (96, 5.3), (96, 4.5),
    (97, 4.1), (97, 3.7), (98, 6.0), (98, 5.4), (99, 4.8), (99, 3.0), (100, 5.7), (100, 4.3), (101, 6.0),
    (101, 5.0), (102, 4.6), (102, 3.8), (103, 5.2), (103, 4.0), (104, 6.0), (104, 5.6), (105, 4.4),
    (105, 3.4), (106, 5.0), (106, 4.7), (107, 6.0), (107, 3.9), (108, 5.3), (108, 4.2), (109, 4.8),
    (109, 3.3), (110, 6.0), (110, 4.0), (111, 4.5), (111, 3.0), (112, 5.1), (112, 3.7), (113, 6.0),
    (113, 2.8), (114, 3.9), (114, 1.4), (115, 3.0), (115, 2.4), (116, 4.1), (116, 2.0), (117, 3.6),
    (117, 1.1), (118, 2.9), (118, 4.6), (119, 3.2), (119, 2.7), (120, 4.1), (120, 2.2), (121, 3.4),
    (121, 1.6), (122, 4.4), (122, 3.0), (123, 4.0), (123, 2.6), (124, 3.3), (124, 1.9), (125, 4.2),
    (125, 3.0), (126, 3.5), (126, 1.4),
]
ma_c4 += [
    (85.5, 5.3), (87.5, 5.8), (89.5, 4.5), (91.5, 5.2), (93.5, 5.7), (95.5, 4.3), (97.5, 5.5), (99.5, 5.9),
    (101.5, 4.4), (103.5, 5.8), (105.5, 5.1), (107.5, 4.6), (109.5, 5.7), (111.5, 5.4), (76.5, 4.6),
    (78.5, 5.7), (80.5, 4.3), (82.5, 3.6), (84.5, 4.9), (86.5, 3.8), (62.5, 5.0), (60.5, 3.7), (58.5, 4.6),
    (64.5, 2.0), (66.5, 3.0), (68.5, 4.3),
]
ma_c5 = [
    (0, 0.5), (0, 1.35), (1, 0.2), (1, 1.48), (2, 0.8), (3, 0.1), (4, 0.4), (5, 0.65), (6, 0.05), (7, 0.3),
    (8, 0.9), (9, 0.15), (10, 0.55), (11, 0.25), (12, 0.7), (13, 0.1), (14, 0.4), (15, 0.2), (16, 0.85),
    (17, 0.05), (18, 0.35), (19, 0.6), (20, 0.15), (21, 0.45), (22, 0.25), (24, 1.0), (26, 0.3), (28, 0.5),
    (29, 0.15), (31, 0.7), (32, 1.1), (33, 0.05), (35, 0.4), (36, 1.42), (37, 0.8), (37, 0.2),
    (50, 0.2), (51, 0.9), (52, 0.5), (53, 1.2), (54, 0.3), (55, 0.75), (56, 1.05), (57, 0.15), (58, 1.4),
    (59, 0.6), (60, 0.35), (61, 1.6), (62, 0.9), (63, 1.2), (64, 0.45), (65, 1.9), (66, 0.8), (67, 2.3),
    (68, 1.35), (69, 2.75), (69, 0.6), (70, 1.6), (71, 2.98), (71, 1.0), (72, 2.5), (72, 0.3), (73, 3.4),
    (73, 1.8), (74, 2.8), (74, 0.7), (75, 3.1), (75, 1.2), (76, 2.6), (76, 0.45), (77, 3.3), (77, 0.25),
    (78, 2.9), (78, 0.9), (79, 3.6), (79, 0.5), (80, 3.1), (80, 0.15),
    (81, 4.3), (81, 0.6), (82, 4.8), (82, 0.3), (83, 3.9), (83, 0.45), (84, 4.5), (84, 0.1), (85, 5.2),
    (85, 0.7), (86, 4.1), (86, 0.35), (87, 4.7), (87, 0.2), (88, 3.7), (88, 0.55), (89, 4.4), (89, 0.05),
    (90, 5.0), (90, 0.4), (91, 4.6), (91, 6.0), (92, 4.2), (92, 0.25), (93, 5.3), (93, 0.6), (94, 4.8),
    (94, 0.15), (95, 3.9), (95, 0.45), (96, 4.4), (96, 0.3), (97, 5.5), (97, 0.55), (98, 4.9), (98, 0.1),
    (99, 4.3), (99, 0.4), (100, 5.1), (100, 3.5), (101, 4.6), (101, 0.25), (102, 6.0), (102, 0.5),
    (103, 4.0), (103, 0.15), (104, 5.4), (104, 3.2), (105, 4.7), (105, 0.35), (106, 5.7), (106, 0.6),
    (107, 4.2), (107, 3.6), (108, 6.0), (108, 0.2), (109, 5.2), (109, 0.45), (110, 4.5), (110, 0.1),
    (111, 6.0), (111, 0.3),
]
ma_c5 += [
    (82.5, 5.0), (84.5, 3.5), (86.5, 5.4), (88.5, 4.2), (90.5, 3.8), (92.5, 5.6), (94.5, 4.0), (96.5, 5.0),
    (98.5, 3.6), (100.5, 4.3), (102.5, 4.9), (104.5, 4.1), (106.5, 4.4), (108.5, 5.5), (110.5, 3.9),
    (82.5, 0.1), (86.5, 0.5), (90.5, 0.2), (94.5, 0.35), (98.5, 0.25), (102.5, 0.15), (106.5, 0.4),
    (110.5, 0.55),
]
ma_c6 = [
    (0, 0.3), (1, 1.0), (2, 0.6), (3, 1.4), (4, 0.2), (5, 0.9), (6, 1.6), (7, 0.5), (8, 1.2), (9, 0.8),
    (10, 1.5), (11, 0.1), (12, 1.1), (13, 0.7), (14, 1.7), (15, 1.3), (16, 0.4), (17, 1.0), (18, 1.8),
    (19, 1.4), (20, 0.6), (21, 1.2), (22, 2.0), (23, 1.6), (24, 0.9), (25, 1.35), (26, 2.1), (27, 1.7),
    (28, 1.1), (29, 2.3), (30, 1.5), (31, 1.9), (32, 0.8), (33, 2.2), (34, 1.6), (35, 2.5), (36, 1.3),
    (37, 2.0), (38, 2.7), (39, 1.8), (40, 2.4), (41, 1.5), (42, 2.9), (43, 2.2), (44, 3.1), (45, 2.6),
    (46, 1.9), (47, 3.3), (48, 2.8), (49, 2.3), (50, 3.5), (51, 3.0), (52, 2.6), (53, 3.7), (54, 3.2),
    (55, 2.4), (56, 3.6), (57, 2.9), (58, 1.4), (59, 3.4), (60, 1.2),
    (2, 0.15), (6, 0.4), (9, 0.25), (13, 0.2), (17, 0.45), (20, 1.3), (24, 0.5), (27, 0.85), (30, 0.7),
    (34, 1.0), (37, 1.2), (40, 1.1), (43, 1.5), (46, 1.25), (49, 1.8), (52, 1.6), (55, 2.0),
    (39, 5.53), (43, 4.6), (46, 5.0), (48, 4.2), (50, 4.8), (52, 5.5), (53, 5.3), (56, 4.4), (58, 6.0),
    (60, 3.9), (62, 3.7), (68, 5.0), (73, 6.0), (75, 5.3), (75, 4.2), (78, 4.0),
    (94, 4.6), (97, 6.0), (97, 5.0), (100, 5.3), (103, 4.3), (104, 6.0), (107, 5.2), (108, 4.8), (109, 4.6),
    (111, 2.8), (113, 3.5), (115, 2.4), (116, 4.2), (117, 4.5), (118, 6.0), (119, 6.0), (119, 5.3),
    (120, 5.1), (120, 4.7), (121, 3.3), (121, 2.9), (122, 3.9), (122, 3.1), (123, 2.6), (123, 2.2),
    (124, 3.0), (124, 1.9), (125, 2.5), (125, 3.2), (126, 1.6), (126, 2.1), (127, 2.8), (127, 2.35),
    (128, 1.4), (128, 2.0), (129, 3.0), (129, 2.6), (130, 1.8), (130, 2.3), (131, 1.5), (131, 2.9),
    (132, 2.1), (132, 1.3), (133, 2.5), (133, 1.75), (134, 1.4), (134, 2.2), (135, 1.6), (135, 2.0),
]
ma_c6 += [
    (1.5, 0.45), (3.5, 0.8), (5.5, 1.2), (7.5, 0.3), (9.5, 1.35), (11.5, 0.7), (13.5, 1.05), (15.5, 0.55),
    (16.5, 1.5), (18.5, 0.9), (19.5, 2.0), (21.5, 1.6), (22.5, 0.7), (23.5, 2.2), (25.5, 1.9), (26.5, 1.1),
    (28.5, 2.4), (29.5, 1.3), (31.5, 2.6), (32.5, 1.8), (33.5, 1.2), (35.5, 2.0), (36.5, 2.8), (38.5, 1.6),
    (39.5, 2.3), (41.5, 3.0), (42.5, 1.9), (44.5, 2.4), (45.5, 3.4), (47.5, 2.0), (48.5, 3.1), (50.5, 2.7),
    (51.5, 3.7), (53.5, 2.9), (54.5, 3.9), (56.5, 2.7), (57.5, 3.3),
    (115.5, 2.0), (117.5, 3.6), (118.5, 1.8), (119.5, 2.5), (121.5, 1.6), (123.5, 2.9), (125.5, 1.4),
    (127.5, 3.3), (129.5, 1.7), (131.5, 2.4), (133.5, 3.0), (135.5, 1.3),
]
ma_c7 = [
    (0, 1.0), (1, 0.3), (2, 0.1), (3, 0.85), (4, 0.2), (5, 0.05), (6, 0.7), (7, 0.25), (8, 0.9), (9, 0.1),
    (10, 0.6), (11, 0.15), (12, 0.8), (13, 0.3), (14, 0.05), (15, 0.55), (16, 0.2), (17, 0.75), (18, 0.1),
    (19, 0.4), (20, 0.25), (21, 0.65), (22, 0.05), (23, 0.35), (24, 0.15), (25, 0.3), (26, 0.1), (27, 0.25),
    (28, 0.05), (29, 0.2), (30, 0.35), (31, 0.1), (32, 0.15), (33, 0.05), (34, 0.3), (35, 0.2), (36, 0.1),
    (37, 0.25), (38, 0.05), (39, 0.15), (40, 0.3), (41, 0.1), (42, 0.2), (43, 0.05), (44, 0.35), (45, 0.15),
    (46, 0.1), (47, 0.25), (48, 0.05), (49, 0.2), (50, 0.3), (51, 0.1), (52, 0.15), (53, 0.05), (54, 0.25),
    (55, 0.4), (56, 0.1), (57, 0.2), (58, 0.05), (59, 0.3), (60, 0.15), (61, 0.5), (62, 0.1), (63, 0.25),
    (64, 0.05), (65, 0.35), (66, 0.2), (67, 0.6), (68, 0.1), (69, 0.4), (70, 0.85), (71, 0.25), (72, 0.9),
    (73, 0.15), (74, 0.5), (75, 0.05), (76, 0.3),
    (95, 0.8), (96, 0.4), (97, 0.1), (98, 0.9), (99, 0.3), (100, 0.6), (101, 0.05), (102, 0.75), (103, 0.45),
    (104, 0.2), (105, 0.85), (106, 0.5), (107, 0.1), (108, 0.65), (109, 0.35), (110, 0.9), (111, 0.2),
    (112, 0.55), (113, 0.05), (114, 0.7), (115, 0.4), (116, 0.8), (117, 0.25), (118, 0.6), (119, 0.15),
    (120, 0.95), (121, 0.5), (122, 0.3), (123, 0.75), (124, 0.1), (125, 0.65), (126, 0.4), (127, 0.85),
    (128, 0.2), (129, 0.55), (130, 0.9), (131, 0.3), (132, 0.7), (133, 0.45),
]
ma_c7 += [
    (1.5, 0.6), (3.5, 0.4), (5.5, 0.9), (7.5, 0.5), (9.5, 0.75), (11.5, 0.35), (13.5, 0.55), (15.5, 0.1),
    (17.5, 0.3), (19.5, 0.1), (21.5, 0.2), (23.5, 0.05), (25.5, 0.15), (27.5, 0.1), (29.5, 0.05),
    (31.5, 0.25), (33.5, 0.15), (35.5, 0.05), (37.5, 0.1), (39.5, 0.2), (41.5, 0.05), (43.5, 0.15),
    (45.5, 0.25), (47.5, 0.1), (49.5, 0.05), (51.5, 0.2), (53.5, 0.1), (55.5, 0.05), (57.5, 0.15),
    (59.5, 0.1), (61.5, 0.2), (63.5, 0.1), (65.5, 0.05), (67.5, 0.25), (69.5, 0.15), (71.5, 0.6),
    (73.5, 0.35),
]
ma_c8 = [
    (0, 0.4), (1, 0.15), (2, 0.7), (3, 0.3), (4, 0.55), (5, 0.1), (6, 0.85), (7, 0.25), (8, 1.3), (9, 0.5),
    (10, 1.0), (11, 0.2), (12, 1.45), (13, 0.65), (14, 0.35), (15, 0.9), (16, 0.1), (17, 1.7), (17, 0.45),
    (18, 1.8), (19, 0.75), (20, 0.3), (21, 1.05), (22, 0.55), (23, 0.15), (25, 0.8), (27, 0.2), (29, 1.35),
    (31, 0.6), (33, 1.7),
    (46, 1.2), (47, 0.6), (48, 0.9), (49, 1.84), (50, 1.0), (51, 0.45), (52, 2.3), (53, 1.3), (54, 0.3),
    (55, 1.5), (56, 0.5), (57, 1.2), (57, 0.2), (58, 2.1), (58, 0.4), (59, 1.8), (59, 0.15), (60, 2.6),
    (60, 0.35), (61, 4.92), (61, 1.5), (61, 0.25), (62, 4.31), (62, 2.9), (62, 0.5), (63, 2.3), (63, 0.1),
    (64, 3.14), (64, 0.3), (65, 2.0), (65, 0.2), (66, 3.72), (66, 0.45), (67, 2.2), (67, 0.15), (68, 2.05),
    (68, 0.35), (69, 2.9), (69, 0.1), (70, 3.1), (70, 0.25), (71, 2.6), (71, 0.05), (72, 3.59), (72, 0.3),
    (73, 3.3), (73, 0.15), (74, 2.85), (74, 0.2), (75, 3.0), (75, 0.05), (76, 2.4), (76, 0.3), (77, 3.2),
    (77, 0.1), (78, 2.7), (78, 0.2), (79, 3.3), (79, 0.05), (80, 2.9), (80, 0.25), (81, 2.2), (81, 0.1),
    (82, 3.1), (82, 0.3), (83, 2.6), (83, 0.05), (84, 3.25), (84, 0.15), (85, 2.8), (85, 0.2), (86, 2.4),
    (86, 0.1), (87, 3.0), (87, 0.05), (88, 2.7), (88, 0.25), (89, 2.1), (89, 0.15), (90, 3.2), (90, 0.05),
    (91, 2.5), (91, 0.2), (92, 2.9), (92, 0.1), (93, 3.3), (93, 0.3), (94, 2.3), (94, 0.05), (95, 2.75),
    (95, 0.15), (96, 3.0), (96, 0.25), (97, 2.6), (97, 0.05), (98, 3.2), (98, 0.1), (99, 2.4), (99, 0.2),
    (100, 2.9), (100, 0.05), (101, 3.1), (101, 0.15), (102, 2.2), (102, 0.3), (103, 2.7), (103, 0.1),
    (104, 3.0), (104, 0.05), (105, 2.5), (105, 0.2), (106, 3.25), (106, 0.1), (107, 2.8), (107, 0.25),
    (108, 2.3), (108, 0.05), (109, 3.05), (109, 0.15), (110, 2.6), (110, 0.1), (111, 2.9), (111, 0.2),
    (112, 2.4), (112, 0.05), (113, 3.2), (113, 0.15), (114, 2.7), (114, 0.1), (115, 2.3), (115, 0.25),
    (116, 2.95), (116, 0.05), (118, 2.8), (118, 0.1), (120, 2.5), (120, 0.2), (122, 3.0), (122, 0.05),
    (124, 2.6), (124, 0.15),
]
ma_c8 += [
    (60.5, 0.5), (62.5, 0.15), (64.5, 0.4), (66.5, 0.1), (68.5, 0.2), (70.5, 0.15), (72.5, 0.1), (74.5, 0.05),
    (76.5, 0.2), (78.5, 0.1), (80.5, 0.05), (82.5, 0.15), (84.5, 0.05), (86.5, 0.2), (88.5, 0.1),
    (90.5, 0.15), (92.5, 0.05), (94.5, 0.2), (96.5, 0.1), (98.5, 0.05), (100.5, 0.15), (102.5, 0.1),
    (104.5, 0.2), (106.5, 0.05), (108.5, 0.15), (110.5, 0.05), (112.5, 0.2), (114.5, 0.1), (116.5, 0.15),
    (118.5, 0.05), (120.5, 0.1), (122.5, 0.2),
]

kar_chroms = [kar_c1, kar_c2, kar_c3, kar_c4, kar_c5, kar_c6, kar_c7, kar_c8]
ma_chroms = [ma_c1, ma_c2, ma_c3, ma_c4, ma_c5, ma_c6, ma_c7, ma_c8]

W, H = 1178, 587


def px(x, y):
    # pixel position -> figure fraction
    return x / W, 1 - y / H


def draw_panel(ax, chroms, lengths):
    lengths = np.array(lengths, dtype=float)
    starts = np.concatenate([[0], np.cumsum(lengths)[:-1]])
    total = lengths.sum()

    for i, pts in enumerate(chroms):
        if i % 2 == 0:
            ax.add_patch(Rectangle((starts[i], -0.1), lengths[i], 6.2,
                                   facecolor="#d9d9d9", edgecolor="none", zorder=0))
        pos = np.array([p for p, _ in pts]) + starts[i]
        val = np.array([v for _, v in pts])
        ax.scatter(pos, val, s=15, c="#1c1c1c", linewidths=0, zorder=3)

    ax.axhline(1.3, color="black", lw=0.9, zorder=2)
    ax.axhline(3, color="#333333", lw=0.9, ls=(0, (2, 2.5)), zorder=2)

    centers = starts + lengths / 2
    ax.set_xlim(-0.04 * total, 1.04 * total)
    ax.set_ylim(-0.24, 6.24)
    ax.set_xticks(centers, chrom_labels)
    ax.set_yticks(range(7))

    for side in ["top", "right"]:
        ax.spines[side].set_visible(False)
    ax.spines["bottom"].set_bounds(centers[0], centers[-1])
    ax.spines["left"].set_bounds(0, 6)
    for side in ["bottom", "left"]:
        ax.spines[side].set_linewidth(0.9)

    ax.tick_params(axis="x", length=4.5, width=0.9, pad=6, labelsize=6.5, colors="black")
    ax.tick_params(axis="y", length=5, width=0.9, pad=5, labelsize=10, labelrotation=90)
    for lab in ax.get_yticklabels():
        lab.set_va("center")


fig = plt.figure(figsize=(W / 100, H / 100), dpi=100)
ax_top = fig.add_axes([67 / W, 1 - 233.2 / H, 1114 / W, 194.4 / H])
ax_bot = fig.add_axes([67 / W, 1 - 536.2 / H, 1114 / W, 194.4 / H])

draw_panel(ax_top, kar_chroms, kar_lengths)
draw_panel(ax_bot, ma_chroms, ma_lengths)

ylab = r"$-\log_{10}(P)$"
fig.text(*px(624, 17), "Kar cytoplasm", ha="center", va="center", fontsize=9.5, fontweight="bold")
fig.text(*px(624, 319), "Ma cytoplasm", ha="center", va="center", fontsize=9.5, fontweight="bold")
fig.text(*px(623, 273), "Chromosome", ha="center", va="center", fontsize=11)
fig.text(*px(623, 578), "Chromosome", ha="center", va="center", fontsize=11)
fig.text(*px(24, 136), ylab, ha="center", va="center", rotation=90, fontsize=11)
fig.text(*px(24, 439), ylab, ha="center", va="center", rotation=90, fontsize=11)

fig.savefig("out.png", dpi=100)
